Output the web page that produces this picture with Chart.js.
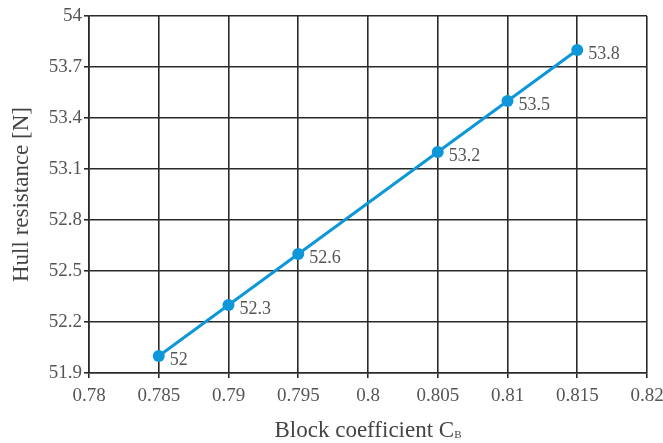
<!DOCTYPE html>
<html>
<head>
<meta charset="utf-8">
<script src="https://cdn.jsdelivr.net/npm/chart.js@4.4.1/dist/chart.umd.min.js"></script>
<style>
  html, body { margin: 0; padding: 0; background: #fff; }
  #wrap { width: 663px; height: 443px; }
</style>
</head>
<body>
<div id="wrap"><canvas id="myChart"></canvas></div>
<script>
// block coefficient values and hull resistance
var cb = [0.785, 0.79, 0.795, 0.805, 0.81, 0.815];
var resistance = [52.0, 52.3, 52.6, 53.2, 53.5, 53.8];
var xTicks = [0.78, 0.785, 0.79, 0.795, 0.8, 0.805, 0.81, 0.815, 0.82];
var yTicks = [51.9, 52.2, 52.5, 52.8, 53.1, 53.4, 53.7, 54];

var serif = '"Liberation Serif", "DejaVu Serif", serif';
var blue = '#0d97d9';
var gridColor = '#2a2a2a';

// value labels beside each point
var pointLabels = {
    id: 'pointLabels',
    afterDatasetsDraw: function(chart) {
        var ctx = chart.ctx;
        var meta = chart.getDatasetMeta(0);
        ctx.save();
        ctx.font = '18px ' + serif;
        ctx.fillStyle = '#555';
        ctx.textAlign = 'left';
        ctx.textBaseline = 'middle';
        meta.data.forEach(function(pt, i) {
            ctx.fillText(String(resistance[i]), pt.x + 11, pt.y + 4);
        });
        ctx.restore();
    }
};

// x axis title with subscript B
var xTitle = {
    id: 'xTitle',
    afterDraw: function(chart) {
        var ctx = chart.ctx;
        var area = chart.chartArea;
        var main = 'Block coefficient C';
        ctx.save();
        ctx.fillStyle = '#444';
        ctx.textBaseline = 'alphabetic';
        ctx.font = '23px ' + serif;
        var w1 = ctx.measureText(main).width;
        ctx.font = '11px ' + serif;
        var w2 = ctx.measureText('B').width;
        var x0 = (area.left + area.right) / 2 - (w1 + w2) / 2;
        var y0 = 437;
        ctx.font = '23px ' + serif;
        ctx.fillText(main, x0, y0);
        ctx.font = '11px ' + serif;
        ctx.fillText('B', x0 + w1, y0 + 1);
        ctx.restore();
    }
};

var ctx = document.getElementById('myChart').getContext('2d');
var chart = new Chart(ctx, {
    type: 'line',
    data: {
        datasets: [{
            data: cb.map(function(x, i) { return { x: x, y: resistance[i] }; }),
            borderColor: blue,
            backgroundColor: blue,
            borderWidth: 3,
            pointRadius: 6,
            pointHoverRadius: 6,
            pointBackgroundColor: blue,
            pointBorderWidth: 0,
            tension: 0
        }]
    },
    options: {
        responsive: true,
        maintainAspectRatio: false,
        animation: false,
        layout: { padding: { left: 0, right: 16, top: 16, bottom: 0 } },
        plugins: {
            legend: { display: false },
            tooltip: { enabled: false }
        },
        scales: {
            x: {
                type: 'linear',
                min: 0.78,
                max: 0.82,
                afterBuildTicks: function(s) {
                    s.ticks = xTicks.map(function(v) { return { value: v }; });
                },
                afterFit: function(s) {
                    s.height = 70;
                    s.paddingLeft = 0;
                    s.paddingRight = 0;
                },
                ticks: {
                    autoSkip: false,
                    maxRotation: 0,
                    padding: 7,
                    color: '#555',
                    font: { family: serif, size: 19 },
                    callback: function(v) { return String(Number(v.toFixed(3))); }
                },
                grid: {
                    color: gridColor,
                    lineWidth: 1.6,
                    tickLength: 5,
                    tickColor: gridColor
                },
                border: { color: gridColor, width: 1.6 }
            },
            y: {
                type: 'linear',
                min: 51.9,
                max: 54,
                afterBuildTicks: function(s) {
                    s.ticks = yTicks.map(function(v) { return { value: v }; });
                },
                afterFit: function(s) {
                    s.width = 89;
                },
                ticks: {
                    padding: 2,
                    color: '#555',
                    font: { family: serif, size: 19 },
                    callback: function(v) { return String(Number(v.toFixed(1))); }
                },
                grid: {
                    color: gridColor,
                    lineWidth: 1.6,
                    tickLength: 5,
                    tickColor: gridColor
                },
                border: { color: gridColor, width: 1.6 },
                title: {
                    display: true,
                    text: 'Hull resistance [N]',
                    color: '#444',
                    font: { family: serif, size: 23 },
                    padding: { top: 8, bottom: 0 }
                }
            }
        }
    },
    plugins: [pointLabels, xTitle]
});
</script>
</body>
</html>
